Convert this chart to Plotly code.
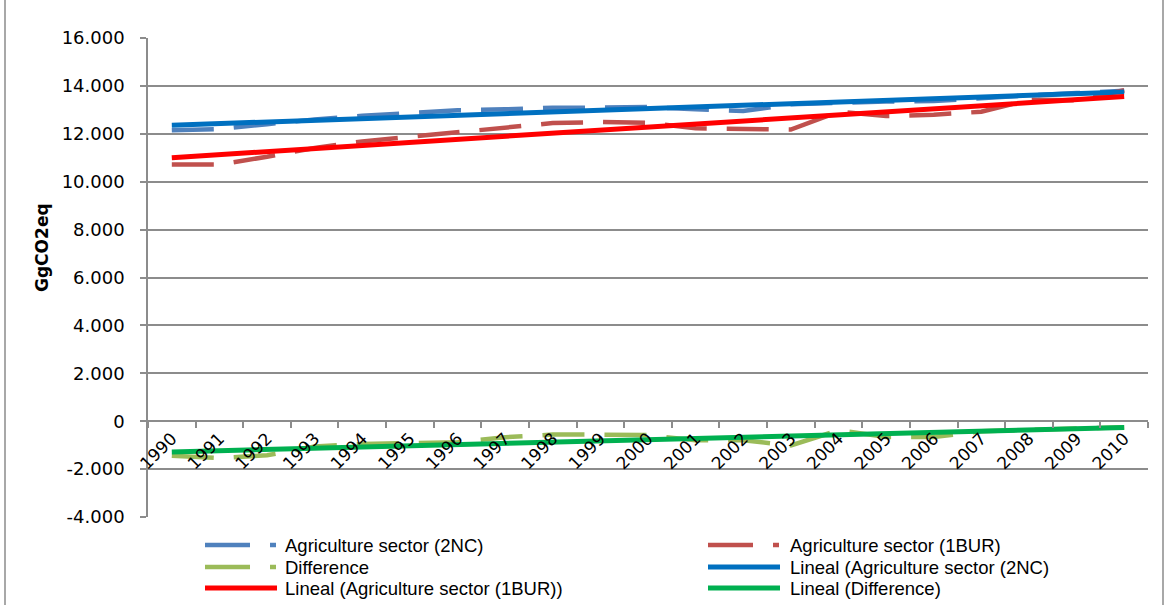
import numpy as np
import plotly.graph_objects as go

# ---------------- data ----------------
years = [str(y) for y in range(1990, 2011)]
agri_2nc = [12150, 12200, 12400, 12600, 12750, 12860, 12980, 13020, 13090, 13090,
            13120, 13020, 12950, 13230, 13300, 13350, 13370, 13500, 13600, 13700, 13800]
agri_1bur = [10720, 10720, 11040, 11410, 11680, 11870, 12080, 12280, 12450, 12490,
             12460, 12230, 12220, 12180, 12920, 12740, 12800, 12920, 13420, 13400, 13820]
difference = [-1440, -1540, -1420, -1060, -950, -920, -880, -670, -560, -560,
              -580, -800, -800, -1010, -380, -660, -660, -420, -360, -300, -250]

y_tickvals = [-4000, -2000, 0, 2000, 4000, 6000, 8000, 10000, 12000, 14000, 16000]
y_ticktext = ["-4.000", "-2.000", "0", "2.000", "4.000", "6.000", "8.000",
              "10.000", "12.000", "14.000", "16.000"]
y_title = "GgCO2eq"

legend_labels = [
    "Agriculture sector (2NC)", "Agriculture sector (1BUR)",
    "Difference", "Lineal (Agriculture sector (2NC)",
    "Lineal (Agriculture sector (1BUR))", "Lineal (Difference)",
]

# ---------------- styles ----------------
C_2NC = "#4F81BD"
C_1BUR = "#C0504D"
C_DIFF = "#9BBB59"
C_T2NC = "#0070C0"
C_T1BUR = "#FF0000"
C_TDIFF = "#00B050"
GRID = "#8C8C8C"
DASH = "42px,20px"

W, H = 1169, 605
ML, MR, MT, MB = 148, 21, 38, 88
PW, PH = W - ML - MR, H - MT - MB


def px(x):
    return (x - ML) / PW


def py(y):
    return (H - MB - y) / PH


def trend(vals):
    idx = np.arange(len(vals))
    k, b = np.polyfit(idx, np.array(vals, dtype=float), 1)
    return (k * idx + b).tolist()


fig = go.Figure()
for vals, col in [(agri_2nc, C_2NC), (agri_1bur, C_1BUR), (difference, C_DIFF)]:
    fig.add_trace(go.Scatter(x=years, y=vals, mode="lines",
                             line=dict(color=col, width=4.5, dash=DASH),
                             hoverinfo="skip"))
for vals, col in [(agri_2nc, C_T2NC), (agri_1bur, C_T1BUR), (difference, C_TDIFF)]:
    fig.add_trace(go.Scatter(x=years, y=trend(vals), mode="lines",
                             line=dict(color=col, width=5),
                             hoverinfo="skip"))

fig.update_layout(
    width=W, height=H, autosize=False,
    margin=dict(l=ML, r=MR, t=MT, b=MB),
    paper_bgcolor="white", plot_bgcolor="white",
    showlegend=False,
    font=dict(family="DejaVu Sans", color="black"),
)
fig.update_xaxes(
    type="category", range=[-0.5, 20.5],
    anchor="free", position=0.2,
    showgrid=False, zeroline=False,
    showline=True, linecolor=GRID, linewidth=1.5,
    ticks="outside", tickson="boundaries", ticklen=6, tickcolor=GRID, tickwidth=1.5,
    tickangle=-45, tickfont=dict(family="DejaVu Sans", size=17, color="black"),
)
fig.update_yaxes(
    range=[-4000, 16000],
    tickmode="array", tickvals=y_tickvals, ticktext=y_ticktext,
    showgrid=True, gridcolor=GRID, gridwidth=1.5, zeroline=False,
    showline=True, linecolor=GRID, linewidth=1.5,
    ticks="outside", ticklen=6, tickcolor=GRID, tickwidth=1.5,
    ticklabelstandoff=12,
    tickfont=dict(family="DejaVu Sans", size=18, color="black"),
)

# y axis title
fig.add_annotation(text=f"<b>{y_title}</b>", xref="paper", yref="paper",
                   x=px(42), y=py(248), showarrow=False, textangle=-90,
                   xanchor="center", yanchor="middle",
                   font=dict(family="DejaVu Sans", size=17, color="black"))

# outer frame
fig.add_shape(type="rect", xref="paper", yref="paper",
              x0=px(5), x1=px(1163), y0=py(-5), y1=py(640),
              line=dict(color=GRID, width=1.5), layer="below")

# manual legend (two columns)
leg_styles = [(C_2NC, True), (C_1BUR, True), (C_DIFF, True),
              (C_T2NC, False), (C_T1BUR, False), (C_TDIFF, False)]
rows_y = [545, 567, 588]
cols_x = [(205, 283), (708, 788)]
for i, (label, (col, dashed)) in enumerate(zip(legend_labels, leg_styles)):
    r, c = divmod(i, 2)
    x0, xt = cols_x[c]
    yy = py(rows_y[r])
    if dashed:
        fig.add_shape(type="line", xref="paper", yref="paper",
                      x0=px(x0), x1=px(x0 + 45), y0=yy, y1=yy,
                      line=dict(color=col, width=4.5))
        fig.add_shape(type="line", xref="paper", yref="paper",
                      x0=px(x0 + 65), x1=px(x0 + 71), y0=yy, y1=yy,
                      line=dict(color=col, width=4.5))
    else:
        fig.add_shape(type="line", xref="paper", yref="paper",
                      x0=px(x0), x1=px(x0 + 72), y0=yy, y1=yy,
                      line=dict(color=col, width=5))
    fig.add_annotation(text=label, xref="paper", yref="paper",
                       x=px(xt), y=yy, showarrow=False,
                       xanchor="left", yanchor="middle",
                       font=dict(family="Liberation Sans", size=18.5, color="black"))

fig.write_html("out.html", config={"displayModeBar": False},
               post_script="document.body.style.margin='0px';")
